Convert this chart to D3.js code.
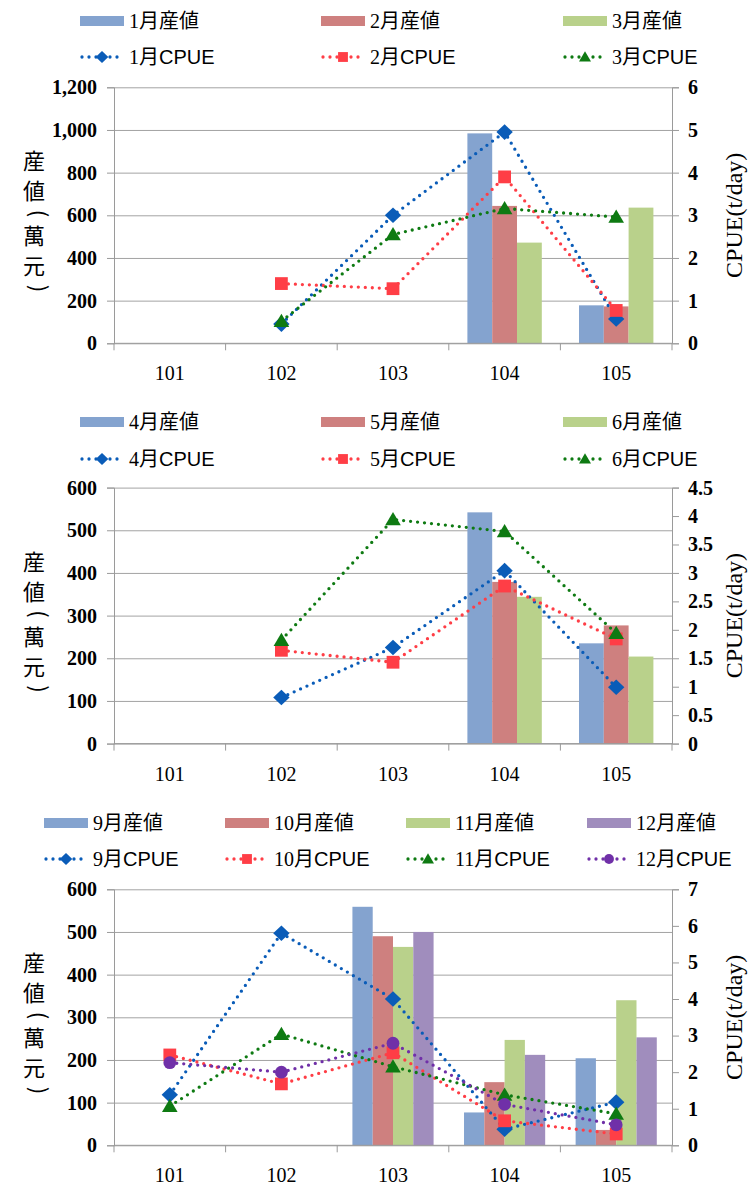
<!DOCTYPE html>
<html><head><meta charset="utf-8">
<script src="https://cdn.jsdelivr.net/npm/d3@7"></script>
<style>
html,body{margin:0;padding:0;background:#fff;}
svg{display:block;}
</style></head>
<body>
<svg id="chart" width="756" height="1200"></svg>
<script>
// ---------- DATA ----------
const years = ["101", "102", "103", "104", "105"];

// Panel 1 (Jan–Mar)
const monthsP1 = ["1月", "2月", "3月"];
const valueJan = [null, null, null, 984, 178];
const valueFeb = [null, null, null, 644, 173];
const valueMar = [null, null, null, 472, 636];
const cpueJan = [null, 0.45, 3.00, 4.95, 0.57];
const cpueFeb = [null, 1.40, 1.28, 3.90, 0.77];
const cpueMar = [null, 0.52, 2.55, 3.16, 2.96];
const leftTicksP1 = [0, 200, 400, 600, 800, 1000, 1200];
const rightTicksP1 = [0, 1, 2, 3, 4, 5, 6];

// Panel 2 (Apr–Jun)
const monthsP2 = ["4月", "5月", "6月"];
const valueApr = [null, null, null, 542, 235];
const valueMay = [null, null, null, 379, 277];
const valueJun = [null, null, null, 344, 204];
const cpueApr = [null, 0.81, 1.69, 3.04, 0.99];
const cpueMay = [null, 1.64, 1.43, 2.77, 1.84];
const cpueJun = [null, 1.82, 3.94, 3.73, 1.94];
const leftTicksP2 = [0, 100, 200, 300, 400, 500, 600];
const rightTicksP2 = [0, 0.5, 1, 1.5, 2, 2.5, 3, 3.5, 4, 4.5];

// Panel 3 (Sep–Dec)
const monthsP3 = ["9月", "10月", "11月", "12月"];
const valueSep = [null, null, 559, 77, 204];
const valueOct = [null, null, 490, 148, 36];
const valueNov = [null, null, 465, 247, 340];
const valueDec = [null, null, 500, 212, 253];
const cpueSep = [1.38, 5.80, 4.00, 0.44, 1.18];
const cpueOct = [2.47, 1.68, 2.53, 0.67, 0.31];
const cpueNov = [1.07, 3.04, 2.15, 1.38, 0.86];
const cpueDec = [2.26, 2.00, 2.79, 1.12, 0.56];
const leftTicksP3 = [0, 100, 200, 300, 400, 500, 600];
const rightTicksP3 = [0, 1, 2, 3, 4, 5, 6, 7];

const valueSuffix = "産値";
const cpueSuffix = "CPUE";
// left title "産値(萬元)" split into runs: [text, isParenthesis]
const leftTitleParts = [["産値", false], ["(", true], ["萬元", false], [")", true]];
const rightTitle = "CPUE(t/day)";

// ---------- STYLE ----------
const barColors = ["#84A3CF", "#CE807F", "#B9D18B", "#A08DBD"];
const lineColors = ["#0A5CB8", "#FF3E46", "#0E7A12", "#7030A8"];
const markerTypes = ["diamond", "square", "triangle", "circle"];

const svg = d3.select("#chart");
const serif = "'Liberation Serif','Noto Sans CJK JP',serif";
const sans = "'Liberation Sans','Noto Sans CJK JP',sans-serif";
const cjk = "'Noto Sans CJK JP',sans-serif";

function markerPath(type, s) {
  if (type === "diamond") return `M0,${-s}L${s*1.05},0L0,${s}L${-s*1.05},0Z`;
  if (type === "square") { const h = s*0.82; return `M${-h},${-h}H${h}V${h}H${-h}Z`; }
  if (type === "triangle") return `M0,${-s*0.95}L${s},${s*0.75}L${-s},${s*0.75}Z`;
  const r = s*0.82;
  return `M${r},0A${r},${r},0,1,1,${-r},0A${r},${r},0,1,1,${r},0Z`;
}

function drawPanel(cfg) {
  const g = svg.append("g");
  const left = 114, right = 672;
  const top = cfg.top, bottom = cfg.top + 256;
  const x = d3.scaleBand().domain(years).range([left, right]).padding(0);
  const yL = d3.scaleLinear().domain([0, d3.max(cfg.leftTicks)]).range([bottom, top]);
  const yR = d3.scaleLinear().domain([0, d3.max(cfg.rightTicks)]).range([bottom, top]);
  const inner = d3.scaleBand().domain(cfg.months).range([0, x.bandwidth()])
    .paddingInner(0).paddingOuter(0.75);

  // gridlines
  g.append("g").attr("transform", `translate(${left},0)`)
    .call(d3.axisLeft(yL).tickValues(cfg.leftTicks).tickSize(-(right - left)).tickFormat(""))
    .call(a => a.select(".domain").remove())
    .call(a => a.selectAll("line").attr("stroke", "#A3A3A3").attr("stroke-width", 1));

  // bars
  cfg.values.forEach((vals, i) => {
    g.append("g").selectAll("rect")
      .data(years.map((yr, k) => ({ yr, v: vals[k] })).filter(d => d.v != null))
      .join("rect")
      .attr("x", d => x(d.yr) + inner(cfg.months[i]))
      .attr("width", inner.bandwidth())
      .attr("y", d => yL(d.v))
      .attr("height", d => bottom - yL(d.v))
      .attr("fill", barColors[i]);
  });

  const tickStyle = a => a.selectAll("text").attr("fill", "#000").style("font-family", serif)
      .style("font-size", "20px").style("font-weight", "bold");

  // left axis
  g.append("g").attr("transform", `translate(${left},0)`)
    .call(d3.axisLeft(yL).tickValues(cfg.leftTicks).tickSize(7).tickPadding(10)
      .tickFormat(d3.format(",")))
    .call(a => a.select(".domain").attr("stroke", "#9A9A9A"))
    .call(a => a.selectAll("line").attr("stroke", "#9A9A9A"))
    .call(tickStyle);

  // right axis
  g.append("g").attr("transform", `translate(${right},0)`)
    .call(d3.axisRight(yR).tickValues(cfg.rightTicks).tickSize(7).tickPadding(9)
      .tickFormat(d => String(d)))
    .call(a => a.select(".domain").attr("stroke", "#9A9A9A"))
    .call(a => a.selectAll("line").attr("stroke", "#9A9A9A"))
    .call(tickStyle);

  // bottom axis: boundary ticks + centered labels
  const bx = g.append("g").attr("transform", `translate(0,${bottom})`);
  bx.append("line").attr("x1", left).attr("x2", right).attr("stroke", "#9A9A9A");
  const bounds = years.map(yr => x(yr)).concat([right]);
  bx.selectAll("line.tk").data(bounds).join("line").attr("class", "tk")
    .attr("x1", d => d).attr("x2", d => d).attr("y1", 0).attr("y2", 7).attr("stroke", "#9A9A9A");
  bx.selectAll("text").data(years).join("text")
    .attr("x", d => x(d) + x.bandwidth() / 2).attr("y", 37)
    .attr("text-anchor", "middle")
    .style("font-family", serif).style("font-size", "20px").text(d => d);

  // CPUE lines
  cfg.cpue.forEach((vals, i) => {
    const pts = years.map((yr, k) => ({ yr, v: vals[k] })).filter(d => d.v != null);
    const line = d3.line().x(d => x(d.yr) + x.bandwidth() / 2).y(d => yR(d.v));
    g.append("path").datum(pts).attr("d", line)
      .attr("fill", "none").attr("stroke", lineColors[i]).attr("stroke-width", 3.3)
      .attr("stroke-linecap", "round").attr("stroke-dasharray", "0 7");
    g.append("g").selectAll("path").data(pts).join("path")
      .attr("transform", d => `translate(${x(d.yr) + x.bandwidth() / 2},${yR(d.v)})`)
      .attr("d", markerPath(markerTypes[i], 7.8))
      .attr("fill", lineColors[i]);
  });

  // axis titles
  const lt = g.append("text")
    .attr("x", 34).attr("y", (top + bottom) / 2 + 10)
    .attr("text-anchor", "middle")
    .style("writing-mode", "vertical-rl")
    .style("text-orientation", "mixed")
    .style("letter-spacing", "8px")
    .style("font-family", cjk).style("font-size", "22px");
  leftTitleParts.forEach(([t, paren]) => {
    lt.append("tspan").attr("dx", paren ? 7 : (t === leftTitleParts[0][0] ? 0 : -7)).text(t);
  });
  g.append("text")
    .attr("transform", `translate(734,${(top + bottom) / 2}) rotate(-90)`)
    .attr("text-anchor", "middle").attr("dominant-baseline", "central")
    .style("font-family", serif).style("font-size", "24px")
    .text(rightTitle);

  // legend
  const lg = g.append("g");
  cfg.months.forEach((m, i) => {
    const lx = cfg.legendX[i];
    lg.append("rect").attr("x", lx).attr("y", cfg.legendY[0] - 5)
      .attr("width", 44).attr("height", 10).attr("fill", barColors[i]);
    lg.append("text").attr("x", lx + 49).attr("y", cfg.legendY[0])
      .attr("dominant-baseline", "central")
      .style("font-family", serif).style("font-size", "20px").text(m + valueSuffix);
    lg.append("line").attr("x1", lx + 2).attr("x2", lx + 42)
      .attr("y1", cfg.legendY[1]).attr("y2", cfg.legendY[1])
      .attr("stroke", lineColors[i]).attr("stroke-width", 3.3)
      .attr("stroke-linecap", "round").attr("stroke-dasharray", "0 7");
    lg.append("path").attr("transform", `translate(${lx + 22},${cfg.legendY[1]})`)
      .attr("d", markerPath(markerTypes[i], 6)).attr("fill", lineColors[i]);
    const t = lg.append("text").attr("x", lx + 49).attr("y", cfg.legendY[1])
      .attr("dominant-baseline", "central").style("font-size", "20px");
    t.append("tspan").style("font-family", serif).text(m);
    t.append("tspan").style("font-family", sans).text(cpueSuffix);
  });
}

drawPanel({
  top: 87.3, months: monthsP1,
  values: [valueJan, valueFeb, valueMar], cpue: [cpueJan, cpueFeb, cpueMar],
  leftTicks: leftTicksP1, rightTicks: rightTicksP1,
  legendX: [80, 321, 563], legendY: [21, 57]
});
drawPanel({
  top: 487.6, months: monthsP2,
  values: [valueApr, valueMay, valueJun], cpue: [cpueApr, cpueMay, cpueJun],
  leftTicks: leftTicksP2, rightTicks: rightTicksP2,
  legendX: [80, 321, 563], legendY: [422, 459]
});
drawPanel({
  top: 889.3, months: monthsP3,
  values: [valueSep, valueOct, valueNov, valueDec], cpue: [cpueSep, cpueOct, cpueNov, cpueDec],
  leftTicks: leftTicksP3, rightTicks: rightTicksP3,
  legendX: [44, 225, 406, 587], legendY: [823, 859]
});
</script>
</body></html>
